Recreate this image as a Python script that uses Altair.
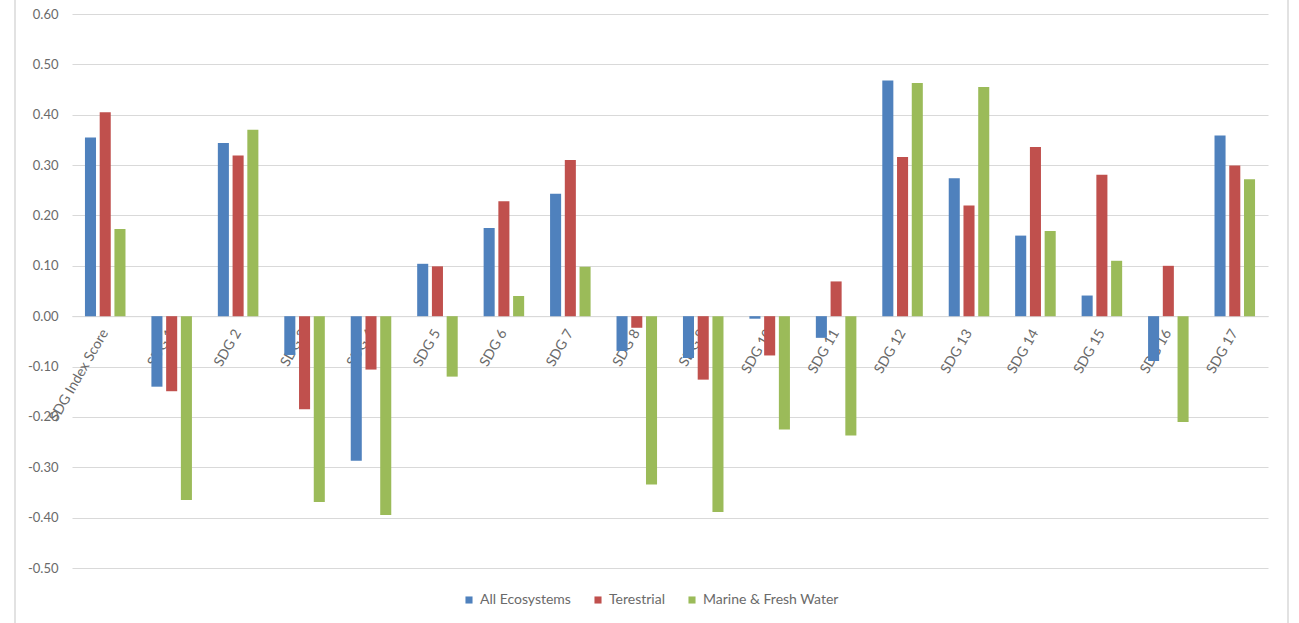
import altair as alt
import pandas as pd

# Correlation of each SDG with ecosystem indicators
categories = ["SDG Index Score", "SDG 1", "SDG 2", "SDG 3", "SDG 4", "SDG 5",
              "SDG 6", "SDG 7", "SDG 8", "SDG 9", "SDG 10", "SDG 11",
              "SDG 12", "SDG 13", "SDG 14", "SDG 15", "SDG 16", "SDG 17"]
series = ["All Ecosystems", "Terestrial", "Marine & Fresh Water"]

all_ecosystems = [0.355, -0.140, 0.344, -0.077, -0.287, 0.104, 0.175, 0.243, -0.069,
                  -0.083, -0.005, -0.043, 0.468, 0.274, 0.160, 0.041, -0.089, 0.359]
terrestrial = [0.405, -0.149, 0.319, -0.185, -0.106, 0.099, 0.228, 0.310, -0.023,
               -0.126, -0.078, 0.069, 0.316, 0.220, 0.336, 0.281, 0.100, 0.299]
marine_fresh = [0.173, -0.365, 0.370, -0.369, -0.395, -0.120, 0.040, 0.098, -0.334,
                -0.389, -0.225, -0.237, 0.463, 0.455, 0.169, 0.110, -0.210, 0.272]

colors = ["#4F81BD", "#C0504D", "#9BBB59"]

rows = []
for name, vals in zip(series, [all_ecosystems, terrestrial, marine_fresh]):
    for cat, v in zip(categories, vals):
        rows.append({"category": cat, "series": name, "value": v})
df = pd.DataFrame(rows)

W, H = 1196, 554
y_min, y_max = -0.5, 0.6
zero_px = H * y_max / (y_max - y_min)
axis_offset = -(H - zero_px)

FONT = "Lato"
TEXT = "#6a6a6a"
GRID = "#D9D9D9"

bars = alt.Chart(df).mark_bar().encode(
    x=alt.X("category:N", sort=categories,
            scale=alt.Scale(paddingInner=0.39, paddingOuter=0.195),
            axis=alt.Axis(title=None, orient="bottom", offset=axis_offset,
                          labelAngle=-60, labelAlign="right", labelBaseline="middle",
                          labelPadding=14, labelFontSize=14, labelColor=TEXT,
                          labelFont=FONT, ticks=False, domainColor=GRID,
                          domainWidth=1, grid=False, labelOverlap=False)),
    xOffset=alt.XOffset("series:N", sort=series,
                        scale=alt.Scale(paddingInner=0.25, paddingOuter=0)),
    y=alt.Y("value:Q", scale=alt.Scale(domain=[y_min, y_max], nice=False),
            axis=alt.Axis(title=None, values=[round(-0.5 + 0.1 * i, 2) for i in range(12)],
                          labelExpr="replace(format(datum.value, '.2f'), '\u2212', '-')",
                          labelFontSize=13, labelColor=TEXT, labelFont=FONT,
                          labelPadding=14, ticks=False, domain=False,
                          gridColor=GRID, gridWidth=1)),
    color=alt.Color("series:N", sort=series,
                    scale=alt.Scale(domain=series, range=colors),
                    legend=alt.Legend(title=None, orient="none", direction="horizontal",
                                      legendX=390, legendY=579,
                                      symbolType="square", symbolSize=50,
                                      symbolStrokeWidth=0,
                                      labelFontSize=14, labelColor=TEXT, labelFont=FONT,
                                      labelOffset=4, columnPadding=20)),
)

# Outer chart-area border
frame = alt.Chart(pd.DataFrame({"k": [0]})).mark_rect(
    fill=None, stroke=GRID, strokeWidth=1.5
).encode(
    x=alt.value(-57), x2=alt.value(1216),
    y=alt.value(-40), y2=alt.value(630),
)

chart = alt.layer(frame, bars).properties(
    width=W, height=H,
    padding={"left": 72, "top": 14, "right": 31, "bottom": 55},
    autosize=alt.AutoSizeParams(type="none"),
    background="white",
).configure_view(stroke=None)

chart.save("out.html", embed_options={"renderer": "svg", "actions": False})
